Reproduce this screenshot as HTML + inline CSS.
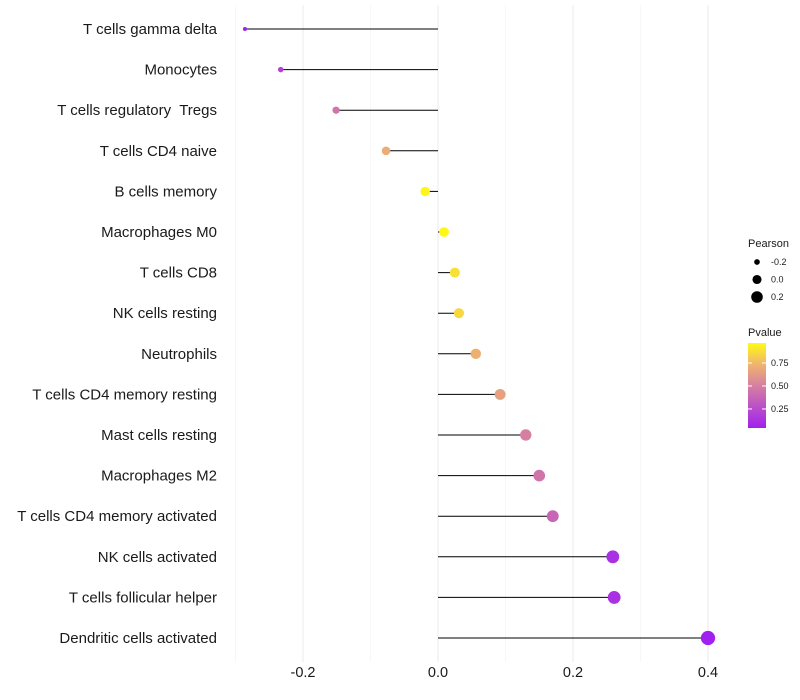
<!DOCTYPE html>
<html><head><meta charset="utf-8"><style>
body{margin:0;background:#fff;font-family:"Liberation Sans",sans-serif}
text{white-space:pre}
</style></head><body>
<svg id="c" width="800" height="700" style="display:block"></svg>
<script>
const categories=["T cells gamma delta","Monocytes","T cells regulatory  Tregs","T cells CD4 naive","B cells memory","Macrophages M0","T cells CD8","NK cells resting","Neutrophils","T cells CD4 memory resting","Mast cells resting","Macrophages M2","T cells CD4 memory activated","NK cells activated","T cells follicular helper","Dendritic cells activated"];
const pearson=[-0.286,-0.233,-0.151,-0.077,-0.019,0.009,0.025,0.031,0.056,0.092,0.130,0.150,0.170,0.259,0.261,0.400];
const pvalues=[0.05,0.2,0.45,0.7,0.95,0.96,0.88,0.85,0.72,0.65,0.5,0.45,0.38,0.12,0.12,0.04];
const xTicks=[-0.2,0.0,0.2,0.4];
const xMinor=[-0.3,-0.1,0.1,0.3];
const sizeLegend=[-0.2,0.0,0.2];
const colorTicks=[0.25,0.5,0.75];
const NS="http://www.w3.org/2000/svg";
const svg=document.getElementById('c');
function X(v){return 438+v*675;}
function Y(i){return 29+i*40.6;}
function R(v){return Math.sqrt(Math.max(2,23.5+68.1*v));}
const stops=[[0,[160,32,240]],[0.5,[214,128,160]],[0.75,[240,180,110]],[1,[255,250,20]]];
function col(p){const t=Math.max(0,Math.min(1,(p-0.043)/(0.967-0.043)));
for(let k=1;k<stops.length;k++){if(t<=stops[k][0]){const a=stops[k-1],b=stops[k],f=(t-a[0])/(b[0]-a[0]);
return 'rgb('+a[1].map((c,j)=>Math.round(c+(b[1][j]-c)*f)).join(',')+')';}}return 'rgb(255,250,20)';}
function el(t,a,p){const e=document.createElementNS(NS,t);for(const k in a)e.setAttribute(k,a[k]);(p||svg).appendChild(e);return e;}
xMinor.forEach(v=>{const l=el('line',{x1:X(v),x2:X(v),y1:5,y2:662,stroke:'#f2f2f2','stroke-width':0.6});

});
xTicks.forEach(v=>{const l=el('line',{x1:X(v),x2:X(v),y1:5,y2:662,stroke:'#ebebeb','stroke-width':1});


const t=el('text',{x:X(v),y:677,'text-anchor':'middle','font-size':14.5,fill:'#1a1a1a'});t.textContent=v.toFixed(1);

});
categories.forEach((c,i)=>{const y=Y(i);
el('line',{x1:X(0),x2:X(pearson[i]),y1:y,y2:y,stroke:'#000','stroke-width':1});
const ci=el('circle',{cx:X(pearson[i]),cy:y,r:R(pearson[i]),fill:col(pvalues[i])});


const t=el('text',{x:217,y:y+5,'text-anchor':'end','font-size':15,fill:'#1a1a1a'});t.textContent=c;

});
let t=el('text',{x:748,y:247,'font-size':11,fill:'#1a1a1a'});t.textContent='Pearson';


sizeLegend.forEach((v,k)=>{const y=262+k*17.5;
const c=el('circle',{cx:757,cy:y,r:R(v)-0.3,fill:'#000'});


const tt=el('text',{x:771,y:y+3,'font-size':9,fill:'#1a1a1a'});tt.textContent=v.toFixed(1);

});
t=el('text',{x:748,y:336,'font-size':11,fill:'#1a1a1a'});t.textContent='Pvalue';


const defs=el('defs',{});const g=el('linearGradient',{id:'gr',x1:0,y1:1,x2:0,y2:0},defs);
stops.forEach(s=>el('stop',{offset:s[0],'stop-color':'rgb('+s[1].join(',')+')'},g));
const bar=el('rect',{x:748,y:343,width:18,height:85,fill:'url(#gr)'});


colorTicks.forEach(v=>{const y=428-(v-0.043)/(0.924)*85;
el('line',{x1:748,x2:752,y1:y,y2:y,stroke:'#fff'});el('line',{x1:762,x2:766,y1:y,y2:y,stroke:'#fff'});
const tt=el('text',{x:771,y:y+3,'font-size':9,fill:'#1a1a1a'});tt.textContent=v.toFixed(2);

});
</script>
</body></html>
